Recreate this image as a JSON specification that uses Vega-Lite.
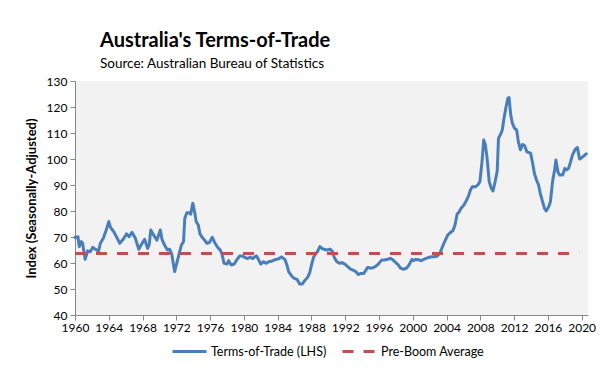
{
  "$schema": "https://vega.github.io/schema/vega-lite/v6.json",
  "width": 513,
  "height": 234,
  "autosize": {"type": "none"},
  "padding": {"left": 75, "top": 81, "right": 26, "bottom": 59},
  "background": "white",
  "title": {
    "text": "Australia's Terms-of-Trade",
    "subtitle": "Source: Australian Bureau of Statistics",
    "anchor": "start",
    "frame": "group",
    "dx": 25,
    "offset": 5,
    "font": "Lato",
    "fontSize": 20,
    "fontWeight": "bold",
    "color": "black",
    "subtitleFont": "Lato",
    "subtitleFontSize": 13.5,
    "subtitleColor": "black",
    "subtitlePadding": 6
  },
  "config": {
    "view": {"fill": "#F2F2F2", "stroke": null},
    "axis": {"grid": false, "domainColor": "#868686", "tickColor": "#868686", "tickSize": 5, "labelFont": "Lato", "labelFontSize": 12, "labelColor": "black", "titleFont": "Lato", "titleColor": "black"}
  },
  "datasets": {
    "tot": [
      {"year": 1960.0, "value": 69.8}, {"year": 1960.35, "value": 70.1}, {"year": 1960.5, "value": 66.3}, {"year": 1960.75, "value": 68.2}, {"year": 1960.9, "value": 67.6},
      {"year": 1961.2, "value": 61.4}, {"year": 1961.5, "value": 64.7}, {"year": 1961.8, "value": 64.3}, {"year": 1962.1, "value": 66.0}, {"year": 1962.4, "value": 65.3},
      {"year": 1962.8, "value": 64.6}, {"year": 1963.0, "value": 67.6}, {"year": 1963.35, "value": 69.5}, {"year": 1963.7, "value": 72.7}, {"year": 1964.0, "value": 75.9},
      {"year": 1964.2, "value": 73.7}, {"year": 1964.6, "value": 72.0}, {"year": 1965.0, "value": 69.5}, {"year": 1965.3, "value": 67.6}, {"year": 1965.7, "value": 69.1},
      {"year": 1966.1, "value": 71.2}, {"year": 1966.4, "value": 70.1}, {"year": 1966.75, "value": 71.8}, {"year": 1967.15, "value": 69.5}, {"year": 1967.55, "value": 65.3},
      {"year": 1967.95, "value": 67.6}, {"year": 1968.25, "value": 69.1}, {"year": 1968.6, "value": 65.6}, {"year": 1968.8, "value": 67.3}, {"year": 1968.97, "value": 72.7},
      {"year": 1969.3, "value": 70.8}, {"year": 1969.7, "value": 68.8}, {"year": 1970.1, "value": 72.7}, {"year": 1970.3, "value": 69.1}, {"year": 1970.6, "value": 66.9},
      {"year": 1970.95, "value": 65.0}, {"year": 1971.2, "value": 65.3}, {"year": 1971.45, "value": 63.5}, {"year": 1971.8, "value": 56.7}, {"year": 1972.05, "value": 59.9},
      {"year": 1972.3, "value": 63.1}, {"year": 1972.6, "value": 66.9}, {"year": 1972.85, "value": 68.2}, {"year": 1973.0, "value": 77.2}, {"year": 1973.25, "value": 79.3},
      {"year": 1973.55, "value": 79.3}, {"year": 1973.7, "value": 78.8}, {"year": 1973.95, "value": 83.0}, {"year": 1974.2, "value": 79.1}, {"year": 1974.35, "value": 75.9},
      {"year": 1974.6, "value": 74.6}, {"year": 1974.8, "value": 71.2}, {"year": 1975.05, "value": 69.9}, {"year": 1975.4, "value": 68.6}, {"year": 1975.6, "value": 67.6},
      {"year": 1975.9, "value": 67.8}, {"year": 1976.25, "value": 69.9}, {"year": 1976.55, "value": 67.8}, {"year": 1976.9, "value": 66.0}, {"year": 1977.2, "value": 65.0},
      {"year": 1977.4, "value": 63.5}, {"year": 1977.65, "value": 59.9}, {"year": 1978.0, "value": 59.6}, {"year": 1978.2, "value": 60.9}, {"year": 1978.5, "value": 59.2},
      {"year": 1978.85, "value": 59.6}, {"year": 1979.15, "value": 61.2}, {"year": 1979.5, "value": 62.7}, {"year": 1979.8, "value": 62.7}, {"year": 1980.1, "value": 62.2},
      {"year": 1980.4, "value": 61.7}, {"year": 1980.75, "value": 62.2}, {"year": 1981.05, "value": 61.7}, {"year": 1981.3, "value": 62.4}, {"year": 1981.5, "value": 62.7},
      {"year": 1981.75, "value": 61.2}, {"year": 1982.0, "value": 59.6}, {"year": 1982.3, "value": 60.5}, {"year": 1982.65, "value": 59.9}, {"year": 1982.95, "value": 60.5},
      {"year": 1983.3, "value": 60.7}, {"year": 1983.7, "value": 61.3}, {"year": 1984.1, "value": 61.6}, {"year": 1984.45, "value": 62.3}, {"year": 1984.85, "value": 61.4},
      {"year": 1985.1, "value": 59.2}, {"year": 1985.3, "value": 56.7}, {"year": 1985.65, "value": 55.0}, {"year": 1985.95, "value": 54.1}, {"year": 1986.3, "value": 53.7},
      {"year": 1986.6, "value": 51.9}, {"year": 1986.9, "value": 51.9}, {"year": 1987.2, "value": 53.2}, {"year": 1987.55, "value": 54.5}, {"year": 1987.8, "value": 56.3},
      {"year": 1988.0, "value": 59.2}, {"year": 1988.25, "value": 62.2}, {"year": 1988.5, "value": 63.7}, {"year": 1988.7, "value": 64.3}, {"year": 1989.0, "value": 66.3},
      {"year": 1989.2, "value": 65.7}, {"year": 1989.45, "value": 65.3}, {"year": 1989.85, "value": 65.0}, {"year": 1990.25, "value": 65.3}, {"year": 1990.5, "value": 64.3},
      {"year": 1990.7, "value": 62.2}, {"year": 1991.0, "value": 60.5}, {"year": 1991.35, "value": 59.9}, {"year": 1991.65, "value": 60.1}, {"year": 1991.95, "value": 59.6},
      {"year": 1992.3, "value": 58.6}, {"year": 1992.6, "value": 57.7}, {"year": 1992.9, "value": 57.3}, {"year": 1993.25, "value": 56.7}, {"year": 1993.55, "value": 55.6},
      {"year": 1993.85, "value": 56.0}, {"year": 1994.2, "value": 56.0}, {"year": 1994.4, "value": 57.0}, {"year": 1994.65, "value": 58.3}, {"year": 1995.0, "value": 58.0},
      {"year": 1995.3, "value": 58.2}, {"year": 1995.6, "value": 58.7}, {"year": 1995.95, "value": 59.7}, {"year": 1996.3, "value": 61.1}, {"year": 1996.7, "value": 61.2},
      {"year": 1997.0, "value": 61.4}, {"year": 1997.35, "value": 61.8}, {"year": 1997.65, "value": 61.2}, {"year": 1998.0, "value": 60.1}, {"year": 1998.3, "value": 59.2},
      {"year": 1998.55, "value": 58.0}, {"year": 1998.9, "value": 57.6}, {"year": 1999.25, "value": 58.0}, {"year": 1999.55, "value": 59.2}, {"year": 1999.9, "value": 61.4},
      {"year": 2000.1, "value": 60.9}, {"year": 2000.35, "value": 61.4}, {"year": 2000.7, "value": 61.2}, {"year": 2001.0, "value": 60.9}, {"year": 2001.3, "value": 61.4},
      {"year": 2001.6, "value": 61.8}, {"year": 2001.95, "value": 62.2}, {"year": 2002.25, "value": 62.4}, {"year": 2002.55, "value": 62.4}, {"year": 2002.9, "value": 62.7},
      {"year": 2003.2, "value": 63.7}, {"year": 2003.4, "value": 65.3}, {"year": 2003.65, "value": 67.3}, {"year": 2003.9, "value": 69.1}, {"year": 2004.15, "value": 70.8},
      {"year": 2004.45, "value": 71.7}, {"year": 2004.75, "value": 72.4}, {"year": 2005.0, "value": 74.6}, {"year": 2005.25, "value": 78.8}, {"year": 2005.5, "value": 79.7},
      {"year": 2005.7, "value": 81.0}, {"year": 2006.05, "value": 82.3}, {"year": 2006.35, "value": 84.0}, {"year": 2006.6, "value": 85.8}, {"year": 2006.85, "value": 88.3},
      {"year": 2007.05, "value": 89.3}, {"year": 2007.4, "value": 89.3}, {"year": 2007.7, "value": 90.0}, {"year": 2007.95, "value": 91.3}, {"year": 2008.2, "value": 99.0},
      {"year": 2008.4, "value": 107.3}, {"year": 2008.6, "value": 105.4}, {"year": 2008.8, "value": 100.3}, {"year": 2009.05, "value": 91.3}, {"year": 2009.3, "value": 88.7},
      {"year": 2009.5, "value": 87.7}, {"year": 2009.75, "value": 91.3}, {"year": 2010.0, "value": 95.4}, {"year": 2010.15, "value": 108.0}, {"year": 2010.4, "value": 109.5},
      {"year": 2010.6, "value": 111.2}, {"year": 2010.8, "value": 115.6}, {"year": 2011.05, "value": 120.1}, {"year": 2011.25, "value": 123.3}, {"year": 2011.4, "value": 123.6},
      {"year": 2011.6, "value": 116.9}, {"year": 2011.8, "value": 113.7}, {"year": 2012.05, "value": 111.8}, {"year": 2012.3, "value": 111.2}, {"year": 2012.5, "value": 106.7},
      {"year": 2012.75, "value": 103.5}, {"year": 2013.0, "value": 105.6}, {"year": 2013.25, "value": 105.1}, {"year": 2013.5, "value": 102.8}, {"year": 2013.95, "value": 102.2},
      {"year": 2014.2, "value": 98.3}, {"year": 2014.4, "value": 94.5}, {"year": 2014.65, "value": 91.9}, {"year": 2014.9, "value": 90.0}, {"year": 2015.1, "value": 86.8},
      {"year": 2015.35, "value": 83.8}, {"year": 2015.6, "value": 81.0}, {"year": 2015.8, "value": 80.0}, {"year": 2016.1, "value": 81.7}, {"year": 2016.3, "value": 83.6},
      {"year": 2016.55, "value": 91.3}, {"year": 2016.8, "value": 95.8}, {"year": 2016.95, "value": 99.6}, {"year": 2017.2, "value": 94.9}, {"year": 2017.4, "value": 93.8},
      {"year": 2017.75, "value": 93.8}, {"year": 2018.0, "value": 96.4}, {"year": 2018.2, "value": 95.8}, {"year": 2018.45, "value": 96.4}, {"year": 2018.7, "value": 99.0},
      {"year": 2018.9, "value": 101.5}, {"year": 2019.25, "value": 103.8}, {"year": 2019.5, "value": 104.4}, {"year": 2019.75, "value": 100.0}, {"year": 2020.0, "value": 100.5},
      {"year": 2020.3, "value": 101.3}, {"year": 2020.55, "value": 102.0}
    ],
    "avg": [
      {"year": 1960.0, "value": 63.7},
      {"year": 2019.7, "value": 63.7}
    ]
  },
  "encoding": {
    "x": {
      "field": "year",
      "type": "quantitative",
      "scale": {"domain": [1960, 2020.75], "nice": false, "zero": false},
      "axis": {"values": [1960, 1964, 1968, 1972, 1976, 1980, 1984, 1988, 1992, 1996, 2000, 2004, 2008, 2012, 2016, 2020], "format": "d", "title": null, "labelPadding": 2, "labelFlush": false}
    },
    "y": {
      "field": "value",
      "type": "quantitative",
      "scale": {"domain": [40, 130], "nice": false, "zero": false},
      "axis": {"values": [40, 50, 60, 70, 80, 90, 100, 110, 120, 130], "title": "Index (Seasonally-Adjusted)", "titleFontSize": 13, "titleFontWeight": "bold", "titlePadding": 8, "labelPadding": 3}
    },
    "color": {
      "field": "series",
      "type": "nominal",
      "scale": {"domain": ["Terms-of-Trade (LHS)", "Pre-Boom Average"], "range": ["#4A7EBB", "#C0504D"]},
      "legend": {
        "orient": "none", "legendX": 96, "legendY": 252, "direction": "horizontal", "title": null,
        "symbolType": "stroke", "symbolSize": 1156, "symbolStrokeWidth": 3,
        "labelFont": "Lato", "labelFontSize": 12.5, "labelColor": "black",
        "columnPadding": 9, "labelOffset": 3, "padding": 0
      }
    },
    "strokeDash": {
      "field": "series",
      "type": "nominal",
      "scale": {"domain": ["Terms-of-Trade (LHS)", "Pre-Boom Average"], "range": [[1, 0], [11, 10]]},
      "legend": {
        "orient": "none", "legendX": 96, "legendY": 252, "direction": "horizontal", "title": null,
        "symbolType": "stroke", "symbolSize": 1156, "symbolStrokeWidth": 3,
        "labelFont": "Lato", "labelFontSize": 12.5, "labelColor": "black",
        "columnPadding": 9, "labelOffset": 3, "padding": 0
      }
    }
  },
  "layer": [
    {
      "data": {"name": "tot"},
      "transform": [{"calculate": "'Terms-of-Trade (LHS)'", "as": "series"}],
      "mark": {"type": "line", "strokeWidth": 3, "strokeJoin": "round", "strokeCap": "round"}
    },
    {
      "data": {"name": "avg"},
      "transform": [{"calculate": "'Pre-Boom Average'", "as": "series"}],
      "mark": {"type": "line", "strokeWidth": 3}
    }
  ]
}
